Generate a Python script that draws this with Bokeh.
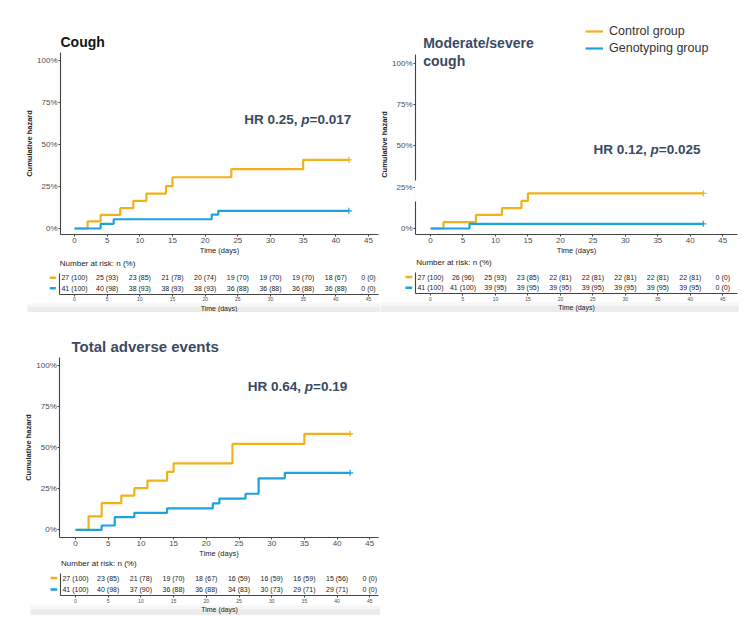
from bokeh.plotting import figure
from bokeh.models import (Range1d, LinearAxis, FixedTicker, PrintfTickFormatter, Label,
                          Legend, LegendItem, BoxAnnotation)
from bokeh.layouts import column, row
from bokeh.embed import file_html
from bokeh.resources import INLINE
from bokeh.core.properties import value

FONT = "Liberation Sans"
ORANGE = "#F2B11B"
BLUE = "#1DA2E0"
AXIS = "#444444"
TICKLAB = "#4d4d4d"
SLATE = "#394a61"

DAY_TICKS = [0, 5, 10, 15, 20, 25, 30, 35, 40, 45]
PCT_TICKS = [0, 25, 50, 75, 100]

# ---- Cough ----
cough_ctrl_t = [0, 2, 4, 7, 9, 11, 14, 15, 24, 35, 42]
cough_ctrl_h = [0, 4.2, 8.1, 12.1, 16.5, 20.8, 25.2, 30.5, 35.3, 40.9, 40.9]
cough_gen_t = [0, 4, 6, 21, 22, 42]
cough_gen_h = [0, 2.8, 5.5, 8.3, 10.5, 10.5]
cough_ctrl_risk = ["27 (100)", "25 (93)", "23 (85)", "21 (78)", "20 (74)", "19 (70)", "19 (70)", "19 (70)", "18 (67)", "0 (0)"]
cough_gen_risk = ["41 (100)", "40 (98)", "38 (93)", "38 (93)", "38 (93)", "36 (88)", "36 (88)", "36 (88)", "36 (88)", "0 (0)"]

# ---- Moderate/severe cough ----
mod_ctrl_t = [0, 2, 7, 11, 14, 15, 42]
mod_ctrl_h = [0, 3.8, 8.2, 12.3, 16.7, 21.2, 21.2]
mod_gen_t = [0, 6, 42]
mod_gen_h = [0, 2.8, 2.8]
mod_ctrl_risk = ["27 (100)", "26 (96)", "25 (93)", "23 (85)", "22 (81)", "22 (81)", "22 (81)", "22 (81)", "22 (81)", "0 (0)"]
mod_gen_risk = ["41 (100)", "41 (100)", "39 (95)", "39 (95)", "39 (95)", "39 (95)", "39 (95)", "39 (95)", "39 (95)", "0 (0)"]

# ---- Total adverse events ----
tot_ctrl_t = [0, 2, 4, 7, 9, 11, 14, 15, 24, 35, 42]
tot_ctrl_h = [0, 8.1, 16.2, 20.8, 25.3, 29.9, 35.2, 40.4, 52.2, 58.3, 58.3]
tot_gen_t = [0, 4, 6, 9, 14, 21, 22, 26, 28, 32, 42]
tot_gen_h = [0, 2.6, 7.7, 10.3, 13.0, 16.0, 19.0, 21.9, 31.3, 34.6, 34.6]
tot_ctrl_risk = ["27 (100)", "23 (85)", "21 (78)", "19 (70)", "18 (67)", "16 (59)", "16 (59)", "16 (59)", "15 (56)", "0 (0)"]
tot_gen_risk = ["41 (100)", "40 (98)", "37 (90)", "36 (88)", "36 (88)", "34 (83)", "30 (73)", "29 (71)", "29 (71)", "0 (0)"]

# Arial/Liberation Sans Bold advance widths (per 1000 em) for HR strings
BOLDW = {" ": 278, ",": 278, ".": 278, "=": 584, "H": 722, "R": 722, "p": 611}
for d in "0123456789":
    BOLDW[d] = 556


def tw(s, size):
    return sum(BOLDW[c] for c in s) * size / 1000.0


def lin(p0, v0, p1, v1):
    k = (v1 - v0) / (p1 - p0)
    return lambda px: v0 + (px - p0) * k


def style_axis(ax, tick_size, label_size, label_bold=False):
    ax.axis_line_color = AXIS
    ax.axis_line_width = 1.1
    ax.major_tick_line_color = AXIS
    ax.major_tick_in = 0
    ax.major_tick_out = 2
    ax.minor_tick_line_color = None
    ax.major_label_text_font = FONT
    ax.major_label_text_font_size = tick_size
    ax.major_label_text_color = TICKLAB
    ax.major_label_standoff = 1
    ax.axis_label_text_font = FONT
    ax.axis_label_text_font_size = label_size
    ax.axis_label_text_font_style = "bold" if label_bold else "normal"
    ax.axis_label_text_color = "#222222"
    ax.axis_label_standoff = 0


def make_panel(g, titles, title_color, title_size, hr_pre, hr_val,
               ctrl_t, ctrl_h, gen_t, gen_h, ctrl_risk, gen_risk, legend=False):
    L, T, R, B = g["canvas"]
    px2x = lin(g["x0"], 0, g["x45"], 45)
    px2y = lin(g["y0"], 0, g["y100"], 100)
    px2t = lin(g["row1"], 1, g["row0"], 0)

    p = figure(width=R - L, height=B - T, x_range=Range1d(px2x(L), px2x(R)),
               y_range=Range1d(px2y(B), px2y(T)), x_axis_type=None, y_axis_type=None,
               toolbar_location=None, output_backend="svg", title=None, min_border=0,
               outline_line_color=None, background_fill_color="white", border_fill_color="white")
    p.extra_y_ranges = {"table": Range1d(px2t(B), px2t(T))}

    # shadow band at the bottom (scan artefact)
    for (y0, y1, c) in g["bands"]:
        p.add_layout(BoxAnnotation(left=px2x(g["band_x"][0]), right=px2x(g["band_x"][1]),
                                   top=px2y(y0), bottom=px2y(y1), fill_color=c, fill_alpha=1,
                                   line_color=None, level="underlay"))

    # main y axis
    yax = LinearAxis(fixed_location=px2x(g["yaxis_x"]),
                     bounds=(px2y(g["xaxis_y"]), px2y(g["yaxis_top"])),
                     ticker=FixedTicker(ticks=PCT_TICKS),
                     formatter=PrintfTickFormatter(format="%d%%"),
                     axis_label="Cumulative hazard")
    style_axis(yax, "8px", "7.5px", label_bold=True)
    p.add_layout(yax, "left")

    # main x axis
    xax = LinearAxis(fixed_location=px2y(g["xaxis_y"]),
                     bounds=(px2x(g["yaxis_x"]), px2x(g["axis_right"])),
                     ticker=FixedTicker(ticks=DAY_TICKS), axis_label="Time (days)")
    style_axis(xax, "8px", "7.5px")
    p.add_layout(xax, "below")

    # risk table axes
    tax = LinearAxis(y_range_name="table", fixed_location=px2t(g["taxis_y"]),
                     bounds=(px2x(g["tline_x"]), px2x(g["axis_right"])),
                     ticker=FixedTicker(ticks=DAY_TICKS), axis_label="Time (days)")
    style_axis(tax, "5px", "7px")
    p.add_layout(tax, "below")

    tline = LinearAxis(y_range_name="table", fixed_location=px2x(g["tline_x"]),
                       bounds=(px2t(g["taxis_y"]), px2t(g["tline_top"])),
                       ticker=FixedTicker(ticks=[]))
    style_axis(tline, "5px", "5px")
    p.add_layout(tline, "left")

    if g.get("gap"):
        gx0, gx1, gy0, gy1 = g["gap"]
        p.add_layout(BoxAnnotation(left=px2x(gx0), right=px2x(gx1), top=px2y(gy0), bottom=px2y(gy1),
                                   fill_color="white", fill_alpha=1, line_color=None))

    # curves
    rc = p.step(ctrl_t, ctrl_h, mode="after", line_color=ORANGE, line_width=2.2)
    rg = p.step(gen_t, gen_h, mode="after", line_color=BLUE, line_width=2.2)
    p.scatter([ctrl_t[-1]], [ctrl_h[-1]], marker="cross", size=6, line_color=ORANGE, line_width=1.2)
    p.scatter([gen_t[-1]], [gen_h[-1]], marker="cross", size=6, line_color=BLUE, line_width=1.2)

    # risk table
    p.text(x=DAY_TICKS, y=[1] * len(DAY_TICKS), text=ctrl_risk, y_range_name="table",
           text_font=value(FONT), text_font_size="7px", text_align="center",
           text_baseline="middle", text_color="#222222")
    p.text(x=DAY_TICKS, y=[0] * len(DAY_TICKS), text=gen_risk, y_range_name="table",
           text_font=value(FONT), text_font_size="7px", text_align="center",
           text_baseline="middle", text_color="#222222")
    kx0, kx1 = g["key"]
    p.segment(x0=[px2x(kx0)], x1=[px2x(kx1)], y0=[1], y1=[1], y_range_name="table",
              line_color=ORANGE, line_width=2.6)
    p.segment(x0=[px2x(kx0)], x1=[px2x(kx1)], y0=[0], y1=[0], y_range_name="table",
              line_color=BLUE, line_width=2.6)
    nx, ny = g["nar"]
    p.add_layout(Label(x=px2x(nx), y=px2t(ny), y_range_name="table", text="Number at risk: n (%)",
                       text_font=FONT, text_font_size="8px", text_color="#222222",
                       text_baseline="middle", text_align="left"))

    # titles
    tx = g["title_x"]
    for t, ty in zip(titles, g["title_y"]):
        p.add_layout(Label(x=px2x(tx), y=px2y(ty), text=t, text_font=FONT, text_font_size=title_size,
                           text_font_style="bold", text_color=title_color,
                           text_baseline="middle", text_align="left"))

    # HR annotation
    hx, hy = g["hr"]
    hs = 13.5
    w3 = tw(hr_val, hs)
    w2 = tw("p", hs)
    ws = tw(" ", hs)
    common = dict(x=px2x(hx), y=px2y(hy), text_font=FONT, text_font_size=f"{hs}px",
                  text_color=SLATE, text_baseline="middle", text_align="right")
    p.add_layout(Label(text=hr_val, text_font_style="bold", **common))
    p.add_layout(Label(text="p", text_font_style="bold italic", x_offset=-w3, **common))
    p.add_layout(Label(text=hr_pre, text_font_style="bold", x_offset=-(w3 + w2 + ws), **common))

    if legend:
        lx, ltop = g["legend"]
        leg = Legend(items=[LegendItem(label="Control group", renderers=[rc]),
                            LegendItem(label="Genotyping group", renderers=[rg])],
                     location=(lx - L, B - (ltop + 33)), border_line_color=None,
                     background_fill_alpha=0, padding=0, margin=0, spacing=1,
                     glyph_width=18, glyph_height=16, label_height=16, label_standoff=6,
                     label_text_font=FONT, label_text_font_size="12.5px",
                     label_text_color="#333333")
        p.add_layout(leg)
    return p


G1 = dict(canvas=(0, 0, 380, 312), x0=74, x45=368, y0=228, y100=60, yaxis_x=60, yaxis_top=52,
          xaxis_y=234, axis_right=378, tline_x=59, tline_top=273, taxis_y=293.5,
          row1=277.3, row0=287.7, key=(49.3, 55.3), title_x=60, title_y=[41],
          hr=(350.7, 119), nar=(59.3, 263),
          band_x=(27, 380), bands=[(303, 306.5, "#f6f6f6"), (306.5, 312, "#ececec")])
G2 = dict(canvas=(380, 0, 746, 312), x0=430, x45=722.3, y0=228, y100=62.7, yaxis_x=415, yaxis_top=54,
          xaxis_y=234.3, axis_right=737, tline_x=415, tline_top=271.7, taxis_y=293.3,
          row1=276.5, row0=287.3, key=(405, 411.7), title_x=422.7, title_y=[42.7, 60],
          hr=(700, 149), nar=(415.7, 262.3), legend=(585, 23),
          gap=(414.3, 416.5, 180, 201),
          band_x=(380, 738), bands=[(302, 305.5, "#f6f6f6"), (305.5, 312, "#ececec")])
G3 = dict(canvas=(0, 312, 380, 615), x0=75, x45=369.3, y0=529.3, y100=364.7, yaxis_x=59.3, yaxis_top=357,
          xaxis_y=537, axis_right=378, tline_x=59.5, tline_top=573, taxis_y=595,
          row1=577.5, row0=589, key=(50, 56.7), title_x=71, title_y=[345.7],
          hr=(346.7, 386), nar=(60.5, 563.3),
          band_x=(30, 380), bands=[(605, 608.5, "#f6f6f6"), (608.5, 615, "#ececec")])

p1 = make_panel(G1, ["Cough"], "#141414", "14px", "HR 0.25,", "=0.017",
                cough_ctrl_t, cough_ctrl_h, cough_gen_t, cough_gen_h, cough_ctrl_risk, cough_gen_risk)
p2 = make_panel(G2, ["Moderate/severe", "cough"], SLATE, "14px", "HR 0.12,", "=0.025",
                mod_ctrl_t, mod_ctrl_h, mod_gen_t, mod_gen_h, mod_ctrl_risk, mod_gen_risk, legend=True)
p3 = make_panel(G3, ["Total adverse events"], SLATE, "15px", "HR 0.64,", "=0.19",
                tot_ctrl_t, tot_ctrl_h, tot_gen_t, tot_gen_h, tot_ctrl_risk, tot_gen_risk)

layout = column(row(p1, p2, spacing=0), p3, spacing=0)
open("out.html", "w").write(file_html(layout, INLINE))
